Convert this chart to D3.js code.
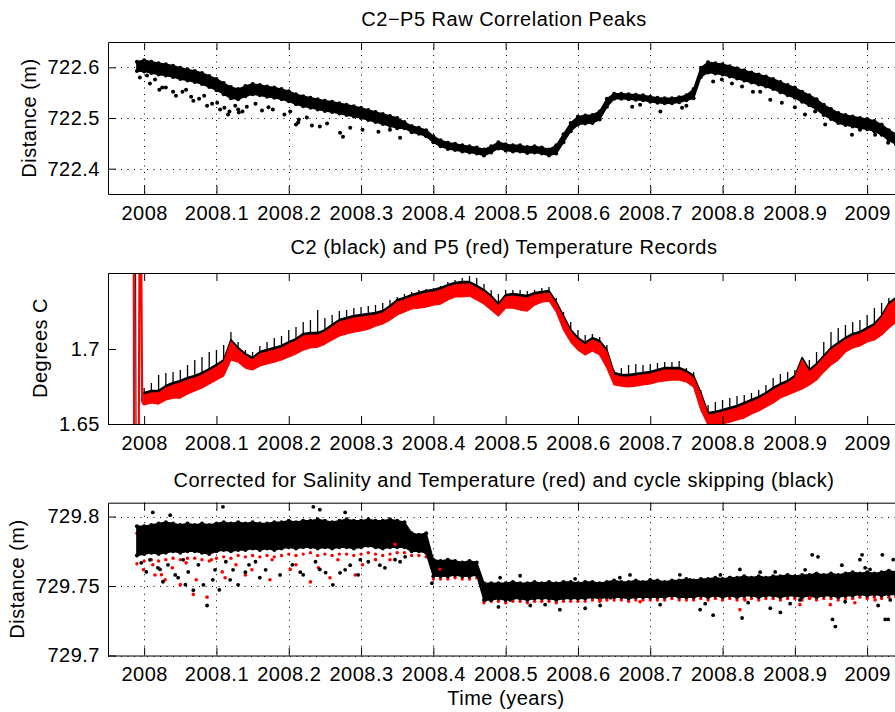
<!DOCTYPE html>
<html><head><meta charset="utf-8">
<script src="https://cdn.jsdelivr.net/npm/d3@7"></script>
<style>body{margin:0;background:#fff}svg{display:block}</style>
</head><body><svg id="c" width="895" height="712"></svg>
<script>
// ---------------- DATA ----------------
const titles = ["C2\u2212P5 Raw Correlation Peaks", "C2 (black) and P5 (red) Temperature Records", "Corrected for Salinity and Temperature (red) and cycle skipping (black)"];
const yAxisTitles = ["Distance (m)", "Degrees C", "Distance (m)"];
const xAxisTitle = "Time (years)";
const xTicks = [2008, 2008.1, 2008.2, 2008.3, 2008.4, 2008.5, 2008.6, 2008.7, 2008.8, 2008.9, 2009];
const xTickLabels = ["2008", "2008.1", "2008.2", "2008.3", "2008.4", "2008.5", "2008.6", "2008.7", "2008.8", "2008.9", "2009"];
const rawYTicks = [722.4, 722.5, 722.6];
const rawYTickLabels = ["722.4", "722.5", "722.6"];
const tempYTicks = [1.65, 1.7];
const tempYTickLabels = ["1.65", "1.7"];
const corrYTicks = [729.7, 729.75, 729.8];
const corrYTickLabels = ["729.7", "729.75", "729.8"];

const timeGrid = [2007.99,
 2008.00,2008.01,2008.02,2008.03,2008.04,2008.05,2008.06,2008.07,2008.08,2008.09,
 2008.10,2008.11,2008.12,2008.13,2008.14,2008.15,2008.16,2008.17,2008.18,2008.19,
 2008.20,2008.21,2008.22,2008.23,2008.24,2008.25,2008.26,2008.27,2008.28,2008.29,
 2008.30,2008.31,2008.32,2008.33,2008.34,2008.35,2008.36,2008.37,2008.38,2008.39,
 2008.40,2008.41,2008.42,2008.43,2008.44,2008.45,2008.46,2008.47,2008.48,2008.49,
 2008.50,2008.51,2008.52,2008.53,2008.54,2008.55,2008.56,2008.57,2008.58,2008.59,
 2008.60,2008.61,2008.62,2008.63,2008.64,2008.65,2008.66,2008.67,2008.68,2008.69,
 2008.70,2008.71,2008.72,2008.73,2008.74,2008.75,2008.76,2008.77,2008.78,2008.79,
 2008.80,2008.81,2008.82,2008.83,2008.84,2008.85,2008.86,2008.87,2008.88,2008.89,
 2008.90,2008.91,2008.92,2008.93,2008.94,2008.95,2008.96,2008.97,2008.98,2008.99,
 2009.00,2009.01,2009.02,2009.03,2009.04];

// Panel 1: raw correlation peak distance, band centre and half-thickness (m)
const rawMid = [722.602,
 722.603,722.600,722.597,722.595,722.592,722.588,722.585,722.582,722.578,722.572,
 722.566,722.558,722.550,722.547,722.553,722.557,722.555,722.552,722.550,722.547,
 722.543,722.537,722.533,722.530,722.527,722.524,722.522,722.519,722.516,722.513,
 722.510,722.506,722.502,722.498,722.494,722.490,722.486,722.478,722.475,722.470,
 722.458,722.450,722.445,722.443,722.440,722.438,722.436,722.432,722.438,722.446,
 722.442,722.440,722.440,722.437,722.438,722.436,722.432,722.438,722.460,722.482,
 722.495,722.497,722.498,722.505,722.530,722.543,722.543,722.542,722.541,722.540,
 722.537,722.535,722.534,722.534,722.536,722.540,722.548,722.590,722.600,722.598,
 722.596,722.592,722.588,722.584,722.580,722.576,722.572,722.567,722.561,722.555,
 722.550,722.542,722.535,722.527,722.516,722.508,722.500,722.496,722.493,722.490,
 722.488,722.484,722.477,722.466,722.458];
const rawHalf = [0.009,
 0.011,0.011,0.011,0.011,0.011,0.011,0.011,0.011,0.011,0.011,
 0.011,0.011,0.011,0.010,0.010,0.010,0.010,0.010,0.010,0.010,
 0.010,0.010,0.010,0.010,0.010,0.010,0.010,0.010,0.010,0.010,
 0.010,0.010,0.010,0.010,0.010,0.010,0.006,0.006,0.006,0.006,
 0.006,0.006,0.006,0.006,0.006,0.006,0.006,0.006,0.006,0.006,
 0.006,0.006,0.006,0.006,0.006,0.006,0.006,0.008,0.008,0.008,
 0.008,0.008,0.008,0.008,0.008,0.005,0.005,0.005,0.005,0.005,
 0.005,0.005,0.005,0.005,0.005,0.005,0.009,0.009,0.010,0.010,
 0.010,0.010,0.010,0.010,0.010,0.010,0.010,0.010,0.010,0.010,
 0.010,0.010,0.010,0.010,0.010,0.010,0.010,0.010,0.010,0.010,
 0.010,0.010,0.010,0.010,0.010];
const rawOutliers = [[2007.994,722.580],[2008.004,722.584],[2008.021,722.556],[2008.025,722.560],[2008.040,722.552],
 [2008.044,722.544],[2008.065,722.542],[2008.068,722.534],[2008.087,722.524],[2008.094,722.528],[2008.111,722.520],
 [2008.118,722.513],[2008.116,722.507],[2008.130,722.517],[2008.131,722.511],[2008.142,722.522],[2008.163,722.515],
 [2008.178,722.517],[2008.210,722.487],[2008.214,722.497],[2008.213,722.491],[2008.243,722.483],[2008.271,722.471],
 [2008.275,722.463],[2008.354,722.461],[2008.675,722.522],[2008.744,722.520],[2008.787,722.572],[2008.827,722.562],
 [2008.842,722.552],[2008.882,722.530],[2008.914,722.507],[2008.942,722.487],[2008.979,722.467],[2009.029,722.451],
 [2008.008,722.568],[2008.015,722.576],[2008.030,722.560],[2008.053,722.552],[2008.058,722.556],[2008.076,722.538],
 [2008.083,722.544],[2008.101,722.530],[2008.105,722.517],[2008.126,722.524],[2008.136,722.513],[2008.154,722.528],
 [2008.172,722.521],[2008.194,722.507],[2008.202,722.513],[2008.225,722.501],[2008.232,722.485],[2008.253,722.489],
 [2008.285,722.481],[2008.302,722.477],[2008.324,722.473],[2008.340,722.477],[2008.686,722.526],[2008.714,722.513],
 [2008.750,722.524],[2008.799,722.576],[2008.813,722.568],[2008.852,722.552],[2008.866,722.536],[2008.900,722.521],
 [2008.928,722.513],[2008.960,722.493],[2008.990,722.477],[2009.011,722.467]];

// Panel 2: temperature records (deg C): red lower/upper envelope, black spike tops
const tempRedLo = [null,
 1.6627,1.6640,1.6633,1.6660,1.6673,1.6673,1.6700,1.6720,1.6740,1.6767,
 1.6793,1.6820,1.6927,1.6913,1.6873,1.6860,1.6887,1.6900,1.6913,1.6927,
 1.6947,1.6967,1.6993,1.7007,1.7013,1.7033,1.7060,1.7087,1.7100,1.7113,
 1.7120,1.7133,1.7153,1.7167,1.7193,1.7227,1.7247,1.7267,1.7273,1.7280,
 1.7293,1.7300,1.7327,1.7347,1.7347,1.7353,1.7327,1.7300,1.7260,1.7220,
 1.7273,1.7273,1.7260,1.7253,1.7293,1.7313,1.7320,1.7247,1.7127,1.7047,
 1.6993,1.6960,1.6987,1.6960,1.6873,1.6760,1.6753,1.6747,1.6753,1.6760,
 1.6767,1.6780,1.6787,1.6793,1.6793,1.6780,1.6747,1.6593,1.6493,1.6493,
 1.6500,1.6513,1.6527,1.6540,1.6567,1.6587,1.6613,1.6640,1.6673,1.6693,
 1.6713,1.6733,1.6760,1.6793,1.6847,1.6893,1.6927,1.6980,1.7007,1.7020,
 1.7047,1.7060,1.7093,1.7140,1.7180];
const tempRedHi = [null,
 1.6693,1.6707,1.6707,1.6740,1.6760,1.6773,1.6793,1.6807,1.6827,1.6853,
 1.6880,1.6913,1.7047,1.6993,1.6953,1.6927,1.6967,1.6980,1.6993,1.7007,
 1.7033,1.7053,1.7087,1.7093,1.7093,1.7113,1.7147,1.7180,1.7193,1.7207,
 1.7213,1.7220,1.7227,1.7240,1.7273,1.7313,1.7327,1.7347,1.7360,1.7373,
 1.7380,1.7393,1.7413,1.7427,1.7433,1.7433,1.7407,1.7380,1.7340,1.7287,
 1.7347,1.7353,1.7347,1.7340,1.7360,1.7367,1.7373,1.7300,1.7207,1.7113,
 1.7060,1.7027,1.7060,1.7040,1.6980,1.6827,1.6813,1.6813,1.6820,1.6827,
 1.6833,1.6847,1.6860,1.6860,1.6860,1.6840,1.6807,1.6693,1.6560,1.6567,
 1.6580,1.6593,1.6607,1.6627,1.6647,1.6667,1.6693,1.6727,1.6753,1.6773,
 1.6807,1.6927,1.6847,1.6887,1.6940,1.6993,1.7027,1.7060,1.7087,1.7100,
 1.7127,1.7153,1.7207,1.7293,1.7327];
const tempBlackHi = [null,
 1.6740,1.6773,1.6827,1.6840,1.6847,1.6860,1.6893,1.6927,1.6947,1.6980,
 1.6993,1.7027,1.7113,1.7047,1.6993,1.6980,1.7020,1.7047,1.7073,1.7087,
 1.7127,1.7147,1.7180,1.7193,1.7260,1.7207,1.7227,1.7253,1.7260,1.7273,
 1.7280,1.7287,1.7293,1.7307,1.7327,1.7347,1.7367,1.7380,1.7393,1.7400,
 1.7407,1.7420,1.7447,1.7460,1.7473,1.7487,1.7473,1.7433,1.7393,1.7367,
 1.7393,1.7393,1.7393,1.7387,1.7393,1.7407,1.7413,1.7340,1.7247,1.7180,
 1.7127,1.7093,1.7100,1.7080,1.7027,1.6860,1.6873,1.6893,1.6900,1.6893,
 1.6900,1.6907,1.6913,1.6913,1.6920,1.6873,1.6847,1.6727,1.6627,1.6647,
 1.6660,1.6673,1.6687,1.6693,1.6707,1.6727,1.6760,1.6807,1.6833,1.6847,
 1.6860,1.6887,1.6927,1.6980,1.7047,1.7113,1.7140,1.7160,1.7180,1.7193,
 1.7227,1.7273,1.7307,1.7340,1.7380];
// instrument start-up transients at the left edge
const tempRedStartT = [2007.9855, 2007.9862, 2007.9925, 2007.9940, 2007.9955, 2007.9972, 2008.00];
const tempRedStartV = [1.80, 1.64, 1.64, 1.80, 1.80, 1.665, 1.6627];
const tempBlackStartT = [2007.9880, 2007.9888];
const tempBlackStartV = [1.80, 1.64];

// Panel 3: corrected distance (m), band limits per series
const corrBlackHi = [729.793,
 729.793,729.794,729.795,729.796,729.795,729.794,729.795,729.794,729.795,729.794,
 729.795,729.796,729.795,729.796,729.795,729.796,729.795,729.795,729.796,729.796,
 729.797,729.796,729.797,729.797,729.798,729.797,729.796,729.797,729.798,729.797,
 729.797,729.798,729.797,729.797,729.798,729.797,729.796,729.788,729.787,729.788,
 729.769,729.768,729.769,729.768,729.767,729.768,729.767,729.752,729.752,729.752,
 729.752,729.753,729.752,729.752,729.753,729.752,729.753,729.752,729.753,729.753,
 729.752,729.753,729.753,729.752,729.753,729.754,729.753,729.753,729.754,729.753,
 729.754,729.754,729.753,729.754,729.754,729.755,729.754,729.755,729.755,729.756,
 729.755,729.756,729.756,729.757,729.756,729.757,729.756,729.757,729.757,729.758,
 729.757,729.758,729.758,729.759,729.758,729.759,729.758,729.759,729.760,729.759,
 729.760,729.759,729.760,729.761,729.760];
const corrBlackLo = [729.772,
 729.773,729.774,729.773,729.774,729.775,729.774,729.775,729.775,729.774,729.773,
 729.775,729.776,729.775,729.776,729.776,729.777,729.776,729.777,729.776,729.777,
 729.778,729.777,729.778,729.778,729.777,729.778,729.777,729.778,729.778,729.777,
 729.778,729.779,729.778,729.777,729.778,729.778,729.778,729.775,729.775,729.774,
 729.757,729.757,729.757,729.758,729.757,729.757,729.758,729.740,729.740,729.741,
 729.740,729.741,729.741,729.740,729.741,729.741,729.741,729.740,729.741,729.741,
 729.741,729.741,729.742,729.741,729.742,729.742,729.742,729.741,729.742,729.742,
 729.742,729.742,729.742,729.743,729.742,729.742,729.742,729.743,729.742,729.743,
 729.742,729.743,729.742,729.743,729.743,729.742,729.743,729.743,729.742,729.743,
 729.743,729.742,729.743,729.742,729.743,729.743,729.742,729.743,729.743,729.744,
 729.743,729.744,729.743,729.744,729.744];
const corrRedHi = [729.788,
 729.789,729.790,729.790,729.791,729.790,729.789,729.790,729.790,729.790,729.789,
 729.790,729.791,729.790,729.791,729.790,729.791,729.790,729.790,729.791,729.791,
 729.792,729.791,729.792,729.792,729.793,729.792,729.791,729.792,729.793,729.792,
 729.792,729.793,729.792,729.792,729.793,729.792,729.791,729.785,729.784,729.785,
 729.766,729.765,729.766,729.765,729.764,729.765,729.764,729.749,729.749,729.749,
 729.749,729.750,729.749,729.749,729.750,729.749,729.750,729.749,729.750,729.750,
 729.749,729.750,729.750,729.749,729.750,729.751,729.750,729.750,729.751,729.750,
 729.751,729.751,729.750,729.751,729.751,729.752,729.751,729.752,729.752,729.753,
 729.752,729.753,729.753,729.754,729.753,729.754,729.753,729.754,729.754,729.755,
 729.754,729.755,729.755,729.756,729.755,729.756,729.755,729.756,729.757,729.756,
 729.757,729.756,729.757,729.758,729.757];
const corrRedLo = [729.766,
 729.768,729.769,729.768,729.769,729.770,729.769,729.770,729.770,729.769,729.768,
 729.770,729.771,729.770,729.772,729.771,729.772,729.771,729.772,729.771,729.772,
 729.773,729.772,729.773,729.774,729.772,729.773,729.772,729.773,729.773,729.772,
 729.773,729.774,729.773,729.772,729.773,729.774,729.774,729.772,729.772,729.771,
 729.755,729.755,729.755,729.756,729.755,729.755,729.756,729.738,729.739,729.739,
 729.738,729.739,729.739,729.738,729.739,729.739,729.739,729.738,729.739,729.739,
 729.739,729.739,729.740,729.739,729.740,729.740,729.740,729.739,729.740,729.740,
 729.740,729.740,729.740,729.741,729.740,729.740,729.740,729.741,729.740,729.741,
 729.740,729.741,729.740,729.741,729.741,729.740,729.741,729.741,729.740,729.741,
 729.741,729.740,729.741,729.740,729.741,729.741,729.740,729.741,729.741,729.742,
 729.741,729.742,729.741,729.742,729.742];
const corrBlackOutliers = [[2008.012,729.803],[2008.036,729.801],[2008.109,729.807],[2008.087,729.736],[2008.095,729.7545],
 [2008.068,729.747],[2008.022,729.762],[2008.043,729.758],[2008.057,729.751],[2008.119,729.7545],[2008.140,729.760],
 [2008.160,729.756],[2008.188,729.758],[2008.216,729.760],[2008.243,729.762],[2008.271,729.7595],[2008.285,729.765],
 [2008.299,729.769],[2008.326,729.765],[2008.347,729.769],[2008.243,729.805],[2008.234,729.807],[2008.278,729.803],
 [2008.347,729.792],[2008.398,729.752],[2008.409,729.760],[2008.430,729.765],[2008.451,729.758],[2008.472,729.740],
 [2008.490,729.735],[2008.506,729.740],[2008.534,729.736],[2008.575,729.733],[2008.610,729.734],[2008.645,729.7416],
 [2008.672,729.758],[2008.700,729.7545],[2008.755,729.7545],[2008.769,729.733],[2008.787,729.729],[2008.797,729.758],
 [2008.824,729.762],[2008.827,729.727],[2008.852,729.760],[2008.866,729.734],[2008.880,729.731],[2008.907,729.740],
 [2008.924,729.7725],[2008.932,729.771],[2008.942,729.756],[2008.952,729.726],[2008.956,729.7208],[2008.965,729.765],
 [2008.976,729.7545],[2008.990,729.769],[2008.993,729.7725],[2009.004,729.762],[2009.021,729.7725],[2009.025,729.726],
 [2009.029,729.726],[2009.032,729.740],[2009.036,729.769],
 [2007.996,729.7667],[2008.003,729.7602],[2008.008,729.7689],[2008.019,729.7631],[2008.026,729.7531],[2008.033,729.7653],
 [2008.047,729.7560],[2008.054,729.7689],[2008.061,729.7602],[2008.075,729.7653],[2008.082,729.7509],[2008.098,729.7617],
 [2008.104,729.7473],[2008.113,729.7675],[2008.123,729.7617],[2008.130,729.7509],[2008.145,729.7653],[2008.154,729.7675],
 [2008.168,729.7617],[2008.205,729.7653],[2008.220,729.7581],[2008.237,729.7675],[2008.251,729.7596],[2008.261,729.7509],
 [2008.278,729.7617],[2008.296,729.7581],[2008.310,729.7675],[2008.333,729.7631],[2008.354,729.7675],[2008.361,729.7710],
 [2008.4924,729.756],[2008.520,729.7574],[2008.5546,729.7366],[2008.596,729.7552],[2008.6307,729.736],[2008.658,729.756],
 [2008.7137,729.7366],[2008.741,729.7581],[2008.776,729.7373],[2008.8105,729.756],[2008.8354,729.738],[2008.8728,729.7602],
 [2008.8935,729.7373],[2008.9142,729.7617],[2008.9696,729.7387],[2008.9972,729.7631],[2009.0152,729.736],[2009.0346,729.7581]];
const corrRedOutliers = [[2008.068,729.744],[2008.087,729.742],[2008.050,729.751],[2008.029,729.7545],[2008.015,729.758],
 [2008.112,729.756],[2008.140,729.758],[2008.174,729.7545],[2008.202,729.762],[2008.230,729.753],[2008.257,729.756],
 [2008.292,729.758],[2008.320,729.769],[2008.347,729.780],[2008.409,729.762],[2008.631,729.740],[2008.686,729.7387],
 [2008.824,729.733],[2008.831,729.740],[2008.907,729.7366],[2008.921,729.7416],[2008.949,729.7366],[2008.983,729.738],
 [2009.011,729.740],
 [2007.999,729.7617],[2008.012,729.7653],[2008.024,729.7581],[2008.039,729.7631],[2008.058,729.7667],[2008.072,729.7545],
 [2008.093,729.7689],[2008.108,729.7602],[2008.127,729.7653],[2008.149,729.7617],[2008.177,729.7689],[2008.210,729.7653],
 [2008.241,729.7631],[2008.268,729.7689],[2008.302,729.7653],[2008.340,729.7689]];

// ---------------- DRAWING ----------------
const FONT = "'Liberation Sans', Arial, Helvetica, sans-serif";
const FS = 20, LS = 0.5;
const X0 = 108, X1 = 903.3;
const svg = d3.select('#c');
const x = d3.scaleLinear().domain([2007.95, 2009.05]).range([X0, X1]);

const panels = [
  {id: 1, top: 42, bottom: 194, yDomain: [722.35, 722.65], yTicks: rawYTicks, yLabels: rawYTickLabels,
   grid: true, title: titles[0], titleY: 26, ylab: yAxisTitles[0], ylabX: 36, ylabY: 118},
  {id: 2, top: 273, bottom: 424, yDomain: [1.65, 1.7507], yTicks: tempYTicks, yLabels: tempYTickLabels,
   grid: false, title: titles[1], titleY: 253.7, ylab: yAxisTitles[1], ylabX: 46.5, ylabY: 348},
  {id: 3, top: 502.7, bottom: 655.5, yDomain: [729.7, 729.81], yTicks: corrYTicks, yLabels: corrYTickLabels,
   grid: true, title: titles[2], titleY: 486.7, ylab: yAxisTitles[2], ylabX: 24, ylabY: 579}
];

function dots(g, pts, y, color, r) {
  g.append('g').selectAll('circle').data(pts).join('circle')
    .attr('cx', d => x(d[0])).attr('cy', d => y(d[1])).attr('r', r).attr('fill', color);
}

function drawData(p, g, y) {
  if (p.id === 1) {
    const rows = timeGrid.map((t, i) => ({t, lo: rawMid[i] - rawHalf[i], hi: rawMid[i] + rawHalf[i]}));
    g.append('path').datum(rows)
      .attr('d', d3.area().x(d => x(d.t)).y0(d => y(d.lo)).y1(d => y(d.hi)))
      .attr('fill', '#000').attr('stroke', '#000').attr('stroke-width', 1.5).attr('stroke-linejoin', 'round');
    dots(g, rows.map(d => [d.t, d.hi]), y, '#000', 2);
    dots(g, rows.map(d => [d.t, d.lo]), y, '#000', 2);
    dots(g, rawOutliers, y, '#000', 2);
  } else if (p.id === 2) {
    const rows = timeGrid.map((t, i) => ({t, rlo: tempRedLo[i], rhi: tempRedHi[i], bhi: tempBlackHi[i]}));
    const def = d => d.rlo !== null;
    // black record: body just above the red one, plus its spikes
    g.append('path').datum(tempBlackStartT.map((t, i) => [t, tempBlackStartV[i]]))
      .attr('d', d3.line().x(d => x(d[0])).y(d => y(d[1])))
      .attr('fill', 'none').attr('stroke', '#000').attr('stroke-width', 1);
    g.append('path').datum(rows)
      .attr('d', d3.area().defined(def).x(d => x(d.t)).y0(d => y(d.rlo) - 2).y1(d => y(d.rhi) - 2.5))
      .attr('fill', '#000').attr('stroke', '#000').attr('stroke-width', 1.5).attr('stroke-linejoin', 'round');
    g.append('g').selectAll('line').data(rows.filter(d => def(d) && d.bhi > d.rhi)).join('line')
      .attr('x1', d => x(d.t)).attr('x2', d => x(d.t))
      .attr('y1', d => y(d.rhi)).attr('y2', d => y(d.bhi))
      .attr('stroke', '#000').attr('stroke-width', 1.3);
    // red record
    g.append('path').datum(tempRedStartT.map((t, i) => [t, tempRedStartV[i]]))
      .attr('d', d3.line().x(d => x(d[0])).y(d => y(d[1])))
      .attr('fill', 'none').attr('stroke', '#f00').attr('stroke-width', 2.2);
    g.append('path').datum(rows)
      .attr('d', d3.area().defined(def).x(d => x(d.t)).y0(d => y(d.rlo)).y1(d => y(d.rhi)))
      .attr('fill', '#f00').attr('stroke', '#f00').attr('stroke-width', 1.2).attr('stroke-linejoin', 'round');
  } else {
    const rows = timeGrid.map((t, i) => ({t, blo: corrBlackLo[i], bhi: corrBlackHi[i], rlo: corrRedLo[i], rhi: corrRedHi[i]}));
    dots(g, rows.map(d => [d.t, d.rlo]), y, '#f00', 1.7);
    dots(g, rows.map(d => [d.t, d.rhi]), y, '#f00', 1.7);
    g.append('path').datum(rows)
      .attr('d', d3.area().x(d => x(d.t)).y0(d => y(d.blo)).y1(d => y(d.bhi)))
      .attr('fill', '#000').attr('stroke', '#000').attr('stroke-width', 1.5).attr('stroke-linejoin', 'round');
    dots(g, rows.map(d => [d.t, d.bhi]), y, '#000', 2);
    dots(g, rows.map(d => [d.t, d.blo]), y, '#000', 2);
    dots(g, corrRedOutliers, y, '#f00', 1.8);
    dots(g, corrBlackOutliers, y, '#000', 1.9);
  }
}

panels.forEach(p => {
  const y = d3.scaleLinear().domain(p.yDomain).range([p.bottom, p.top]);
  const clipId = 'clip' + p.id;
  svg.append('clipPath').attr('id', clipId).append('rect')
    .attr('x', X0).attr('y', p.top).attr('width', X1 - X0).attr('height', p.bottom - p.top);

  if (p.grid) {
    const gg = svg.append('g').attr('stroke', '#000').attr('stroke-width', 1).attr('stroke-dasharray', '1,5.5');
    gg.selectAll('line.v').data(xTicks).join('line').attr('class', 'v')
      .attr('x1', d => Math.round(x(d)) + 0.5).attr('x2', d => Math.round(x(d)) + 0.5)
      .attr('y1', p.top).attr('y2', p.bottom);
    gg.selectAll('line.h').data(p.yTicks).join('line').attr('class', 'h')
      .attr('x1', X0).attr('x2', X1)
      .attr('y1', d => Math.round(y(d)) + 0.5).attr('y2', d => Math.round(y(d)) + 0.5);
  }

  const dg = svg.append('g').attr('clip-path', `url(#${clipId})`);
  drawData(p, dg, y);

  const axes = [];
  axes.push(svg.append('g').attr('transform', `translate(0,${p.bottom})`)
    .call(d3.axisBottom(x).tickValues(xTicks).tickFormat((d, i) => xTickLabels[i])
      .tickSizeInner(-8).tickSizeOuter(0).tickPadding(11.5)));
  axes.push(svg.append('g').attr('transform', `translate(0,${p.top})`)
    .call(d3.axisTop(x).tickValues(xTicks).tickFormat(() => '')
      .tickSizeInner(-8).tickSizeOuter(0)));
  axes.push(svg.append('g').attr('transform', `translate(${X0},0)`)
    .call(d3.axisLeft(y).tickValues(p.yTicks).tickFormat((d, i) => p.yLabels[i])
      .tickSizeInner(-8).tickSizeOuter(0).tickPadding(8)));
  axes.forEach(a => {
    a.attr('font-family', FONT).attr('font-size', FS).attr('letter-spacing', LS);
    a.selectAll('path,line').attr('stroke', '#000').attr('stroke-width', 1);
    a.selectAll('text').attr('fill', '#000');
  });

  svg.append('text').attr('x', 504).attr('y', p.titleY).attr('text-anchor', 'middle')
    .attr('font-family', FONT).attr('font-size', FS).attr('letter-spacing', LS).attr('fill', '#000').text(p.title);
  svg.append('text').attr('transform', `translate(${p.ylabX},${p.ylabY}) rotate(-90)`)
    .attr('text-anchor', 'middle').attr('font-family', FONT).attr('font-size', FS).attr('letter-spacing', LS)
    .attr('fill', '#000').text(p.ylab);
});

svg.append('text').attr('x', 506).attr('y', 704.5).attr('text-anchor', 'middle')
  .attr('font-family', FONT).attr('font-size', FS).attr('letter-spacing', LS).attr('fill', '#000').text(xAxisTitle);
</script></body></html>
